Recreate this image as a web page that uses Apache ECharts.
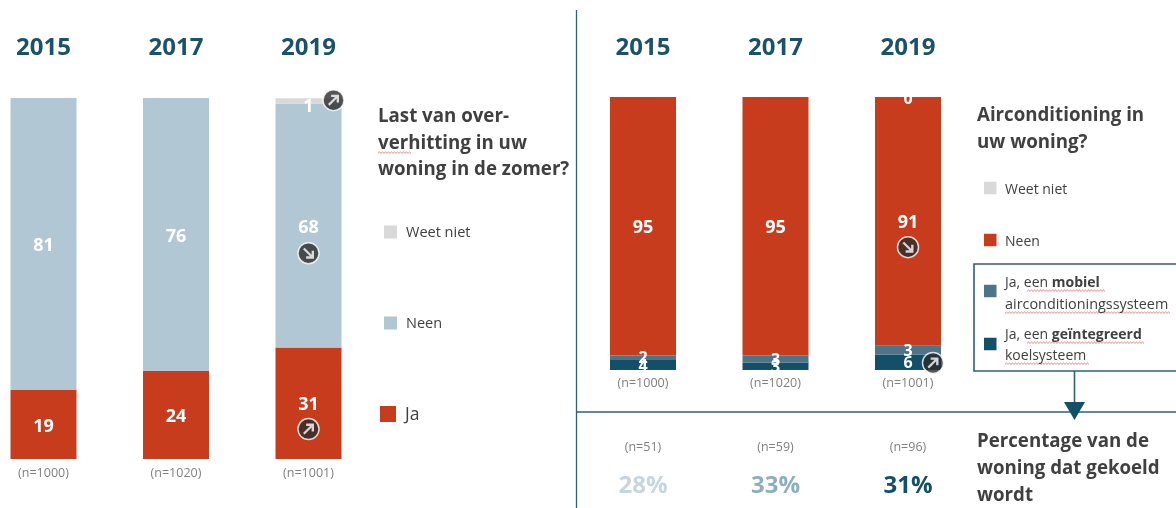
<!DOCTYPE html>
<html><head><meta charset="utf-8">
<style>html,body{margin:0;padding:0;background:#fff}#c{width:1176px;height:508px}</style>
<script src="https://cdn.jsdelivr.net/npm/echarts@6/dist/echarts.min.js"></script></head>
<body><div id="c"></div>
<script>
const years = ['2015','2017','2019'];
const nLeft = ['(n=1000)','(n=1020)','(n=1001)'];
const nRight = ['(n=1000)','(n=1020)','(n=1001)'];
const nSub = ['(n=51)','(n=59)','(n=96)'];
const pctSub = ['28%','33%','31%'];

const leftJa = [19.1,24.4,30.9];
const leftNeen = [80.9,75.6,67.6];
const leftWeet = [null,null,1.4];

const rightIntegrated = [3.7,2.7,5.6];
const rightMobile = [1.6,2.6,3.3];
const rightNeen = [94.7,94.7,91.1];
const rightWeet = [null,null,0];

const RED='#C83C1E', BLUE='#B1C7D3', GRAY='#D9D9D9', MOB='#4E7489', DARK='#134F66', TXT='#404040';
const FONT='"Open Sans", sans-serif';
const pctColors=['#C5D6DF','#8DAEBF',DARK];

const upPath='path://M15 75L60 30L35 30L35 15L85 15L85 65L70 65L70 40L25 85Z';
const downPath='path://M15 25L60 70L35 70L35 85L85 85L85 35L70 35L70 60L25 15Z';

function bar(name,data,color,xi,yi,size,off){
  return {type:'bar',name,data,stack:'s'+xi,xAxisIndex:xi,yAxisIndex:yi,barWidth:66,
    itemStyle:{color},animation:false,silent:true,
    label:{show:true,position:'inside',offset:off||[0,2],color:'#fff',fontFamily:FONT,fontWeight:'bold',fontSize:size,
      formatter:p=>Math.round(p.value)},z:2};
}
function marks(xi,yi,pts){
  const base={type:'scatter',xAxisIndex:xi,yAxisIndex:yi,animation:false,silent:true,z:5};
  return [
    Object.assign({},base,{symbol:'circle',symbolSize:21,
      itemStyle:{color:'#2B2B2B',borderColor:'#fff',borderWidth:1.5},
      data:pts.map(p=>({value:[p[0],p[1]],symbolOffset:[p[3],0]}))}),
    Object.assign({},base,{z:6,symbolSize:11,itemStyle:{color:'#fff'},
      data:pts.map(p=>({value:[p[0],p[1]],symbol:p[2]==='up'?upPath:downPath,symbolOffset:[p[3],0]}))})
  ];
}
const hiddenY=(gi)=>({type:'value',gridIndex:gi,min:0,max:100,show:false});
const noLine={axisLine:{show:false},axisTick:{show:false},splitLine:{show:false}};
function catAxis(gi,pos,data,label){
  return Object.assign({type:'category',gridIndex:gi,position:pos,boundaryGap:false,data,
    axisLabel:Object.assign({interval:0,fontFamily:FONT,showMinLabel:true,showMaxLabel:true},label)},noLine);
}
const yearLabel={color:'#1A5269',fontSize:24,fontWeight:'bold',margin:38};
const nLabel={color:'#808080',fontSize:12.5,margin:7};

function text(x,y,content,size,weight,extra){
  return {type:'text',x,y,z:20,style:Object.assign({text:content,fontFamily:FONT,fontSize:size,fontWeight:weight||'normal',fill:TXT,verticalAlign:'middle'},extra||{})};
}
function square(x,cy,s,fill){return {type:'rect',z:20,shape:{x,y:cy-s/2,width:s,height:s},style:{fill}};}
function squiggle(x0,x1,y){
  const pts=[];let up=false;
  for(let x=x0;x<=x1;x+=1.5){pts.push([x,y+(up?0:1.4)]);up=!up;}
  return {type:'polyline',z:19,shape:{points:pts},style:{stroke:'#D9534F',lineWidth:0.7,fill:null}};
}
const LINE='#2C6278';
const boldRich={rich:{b:{fontFamily:FONT,fontSize:14,fontWeight:'bold',fill:TXT}}};
const graphics=[
  {type:'line',z:1,shape:{x1:576.5,y1:10,x2:576.5,y2:508},style:{stroke:LINE,lineWidth:1.3}},
  {type:'line',z:1,shape:{x1:577,y1:412,x2:1176,y2:412},style:{stroke:LINE,lineWidth:1.3}},
  {type:'rect',z:15,shape:{x:974,y:264,width:204,height:107},style:{fill:'#fff',stroke:LINE,lineWidth:1.6}},
  {type:'line',z:15,shape:{x1:1074.5,y1:371,x2:1074.5,y2:404},style:{stroke:LINE,lineWidth:1.6}},
  {type:'polygon',z:15,shape:{points:[[1064,402],[1085,402],[1074.5,420]]},style:{fill:'#134F66'}},

  text(378,117,'Last van over-',18.7,'bold'),
  text(378,144,'verhitting in uw',18.7,'bold'),
  text(378,170,'woning in de zomer?',18.7,'bold'),
  squiggle(378,412,152),
  square(384,232,13,GRAY), text(406,233,'Weet niet',14.5),
  square(384,323,13,BLUE), text(406,324,'Neen',14.5),
  square(380,414,16,RED), text(405,415,'Ja',17.5),

  text(977,116,'Airconditioning in',18.7,'bold'),
  text(977,143,'uw woning?',18.7,'bold'),
  square(984,188,12.5,GRAY), text(1005,190,'Weet niet',14),
  square(984,240,12.5,RED), text(1005,242,'Neen',14),
  square(984,291,12.5,MOB),
  text(1005,283,'Ja, een {b|mobiel}',14,'normal',boldRich),
  text(1005,305,'airconditioningssysteem',14.4),
  squiggle(1027,1105,290), squiggle(1005,1170,312),
  square(984,344,12.5,DARK),
  text(1005,335,'Ja, een {b|geïntegreerd}',14,'normal',boldRich),
  text(1005,356,'koelsysteem',14),
  squiggle(1027,1145,342), squiggle(1005,1090,363),

  text(977,442,'Percentage van de',18.7,'bold'),
  text(977,469,'woning dat gekoeld',18.7,'bold'),
  text(977,496,'wordt',18.7,'bold')
];

const option={
  backgroundColor:'#fff',animation:false,
  grid:[
    {left:43.5,top:98,width:265,height:361},
    {left:643,top:97,width:265,height:273},
    {left:643,top:456,width:265,height:14}
  ],
  xAxis:[
    catAxis(0,'bottom',nLeft,Object.assign({},nLabel,{margin:8})),
    catAxis(0,'top',years,yearLabel),
    catAxis(1,'bottom',nRight,Object.assign({},nLabel,{margin:7})),
    catAxis(1,'top',years,{color:'#1A5269',fontSize:24,fontWeight:'bold',margin:37}),
    catAxis(2,'top',nSub,{color:'#808080',fontSize:12.5,margin:2}),
    catAxis(2,'bottom',pctSub,{color:(v,i)=>pctColors[i],fontSize:24,fontWeight:'bold',margin:4})
  ],
  yAxis:[hiddenY(0),hiddenY(1),hiddenY(2)],
  series:[
    bar('Ja',leftJa,RED,0,0,18),
    bar('Neen',leftNeen,BLUE,0,0,18),
    bar('Weet niet',leftWeet,GRAY,0,0,18,[0,6]),
    bar('geïntegreerd',rightIntegrated,DARK,2,1,16,[0,1]),
    bar('mobiel',rightMobile,MOB,2,1,16,[0,1]),
    bar('Neen',rightNeen,RED,2,1,18),
    bar('Weet niet',rightWeet,GRAY,2,1,16,[0,2]),
    ...marks(0,0,[[2,99.4,'up',25],[2,57,'down',0],[2,8.3,'up',0]]),
    ...marks(2,1,[[2,45,'down',0],[2,2.6,'up',25]])
  ],
  graphic:graphics
};
const chart=echarts.init(document.getElementById('c'),null,{renderer:'canvas'});
chart.setOption(option);
</script></body></html>
